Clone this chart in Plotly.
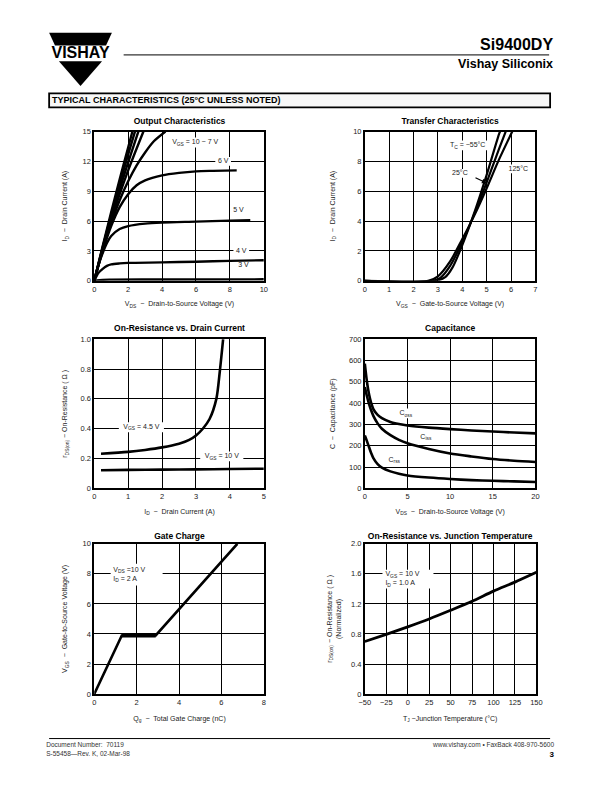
import plotly.graph_objects as go

W, H = 612, 792

# ---------------- data ----------------
# Output characteristics: VDS (V) vs ID (A)
out_v10_x = [0, 0.5, 1.0, 1.5, 2.0, 2.25]
out_v10_y = [0, 3.5, 6.9, 10.2, 13.4, 15.0]
out_v9_x = [0, 0.5, 1.0, 1.5, 2.0, 2.4]
out_v9_y = [0, 3.4, 6.6, 9.7, 12.7, 15.0]
out_v8_x = [0, 0.5, 1.0, 1.5, 2.0, 2.6]
out_v8_y = [0, 3.3, 6.3, 9.2, 11.9, 15.0]
out_v7_x = [0, 0.5, 1.0, 1.5, 2.0, 2.5, 2.9]
out_v7_y = [0, 3.2, 6.1, 8.7, 11.1, 13.3, 15.0]
out_v65_x = [0, 0.5, 1.0, 1.5, 2.0, 2.5, 3.0, 3.5, 4.2]
out_v65_y = [0, 3.1, 5.8, 8.1, 10.0, 11.6, 12.9, 14.0, 15.0]
out_v6_x = [0, 0.5, 1.0, 1.5, 2.0, 2.5, 3.0, 4.0, 5.0, 6.0, 7.0, 8.4]
out_v6_y = [0, 3.0, 5.5, 7.4, 8.7, 9.6, 10.1, 10.6, 10.85, 11.0, 11.05, 11.1]
out_v5_x = [0, 0.25, 0.5, 0.75, 1.0, 1.5, 2.0, 3.0, 4.0, 6.0, 8.0, 9.2]
out_v5_y = [0, 1.6, 2.8, 3.8, 4.5, 5.2, 5.5, 5.75, 5.85, 5.95, 6.05, 6.1]
out_v4_x = [0, 0.25, 0.5, 0.75, 1.0, 1.5, 2.0, 4.0, 6.0, 8.0, 10.0]
out_v4_y = [0, 0.8, 1.2, 1.5, 1.65, 1.75, 1.8, 1.85, 1.92, 2.0, 2.07]
out_v3_x = [0, 0.5, 1.0, 4.0, 10.0]
out_v3_y = [0, 0.1, 0.12, 0.13, 0.15]

# Transfer characteristics: VGS (V) vs ID (A)
tr_m55_x = [0, 2.9, 3.3, 3.6, 4.0, 4.5, 5.0, 5.5, 5.55]
tr_m55_y = [0, 0, 0.25, 0.9, 2.4, 4.6, 7.1, 9.8, 10.0]
tr_25_x = [0, 2.75, 3.1, 3.5, 4.0, 4.5, 5.0, 5.5, 5.78]
tr_25_y = [0, 0, 0.2, 1.0, 2.6, 4.5, 6.6, 8.8, 10.0]
tr_125_x = [0, 2.6, 3.0, 3.5, 4.0, 4.5, 5.0, 5.5, 6.05]
tr_125_y = [0, 0, 0.3, 1.3, 2.8, 4.4, 6.2, 8.1, 10.0]

# On-resistance vs drain current
ron_45_x = [0.2, 1.0, 1.5, 2.0, 2.5, 2.8, 3.0, 3.2, 3.4, 3.6, 3.7, 3.8]
ron_45_y = [0.232, 0.245, 0.258, 0.275, 0.30, 0.325, 0.355, 0.40, 0.465, 0.60, 0.78, 1.0]
ron_10_x = [0.2, 1.0, 2.0, 3.0, 4.0, 5.0]
ron_10_y = [0.122, 0.124, 0.126, 0.128, 0.130, 0.132]

# Capacitance vs VDS
cap_v = [0, 0.25, 0.5, 0.75, 1.0, 1.5, 2.0, 3.0, 4.0, 5.0, 7.5, 10.0, 12.5, 15.0, 17.5, 20.0]
cap_top = [585, 500, 440, 400, 372, 345, 330, 312, 302, 295, 285, 278, 272, 267, 262, 258]
cap_mid = [475, 432, 395, 365, 340, 305, 280, 250, 228, 212, 185, 164, 150, 138, 130, 124]
cap_bot = [248, 222, 193, 165, 142, 114, 98, 80, 69, 61, 51, 44, 39, 36, 33, 30]

# Gate charge
gc_q = [0, 1.3, 2.9, 6.75]
gc_v = [0, 3.9, 3.9, 10.0]

# On-resistance vs junction temperature (normalized)
rt_t = [-50, -25, 0, 25, 50, 75, 100, 125, 150]
rt_r = [0.70, 0.795, 0.895, 1.0, 1.115, 1.235, 1.37, 1.49, 1.62]

# ---------------- layout helpers ----------------
def PX(x):
    return x / W


def PY(y):
    return 1 - y / H


NARROW = "Liberation Sans Narrow, Arial Narrow, Liberation Sans, Arial, sans-serif"
SANS = "Liberation Sans, Arial, Helvetica, sans-serif"
TICKF = dict(family=SANS, size=7.5, color="#222")
NB = "\u00a0"
D = NB * 2 + "\u2212" + NB * 2

panels = [
    dict(px=(90, 263, 129, 280), xr=[0, 10], yr=[0, 15], xd=2, yd=3, so=14,
         yt="I<sub>D</sub>" + D + "Drain Current (A)"),
    dict(px=(366, 540, 129, 280), xr=[0, 7], yr=[0, 10], xd=1, yd=2, so=17,
         yt="I<sub>D</sub>" + D + "Drain Current (A)"),
    dict(px=(90, 263, 339, 490), xr=[0, 5], yr=[0, 1.0], xd=1, yd=0.2, so=12,
         yt="r<sub>DS(on)</sub>" + NB + "\u2212" + NB + "On-Resistance (" + NB + "\u03a9" + NB + ")"),
    dict(px=(366, 540, 339, 490), xr=[0, 20], yr=[0, 700], xd=5, yd=100, so=13,
         yt="C" + D + "Capacitance (pF)"),
    dict(px=(90, 263, 546, 698), xr=[0, 8], yr=[0, 10], xd=2, yd=2, so=14,
         yt="V<sub>GS</sub>" + D + "Gate-to-Source Voltage (V)"),
    dict(px=(366, 541, 546, 698), xr=[-50, 150], yr=[0, 2.0], xd=25, yd=0.4, so=9,
         yt="r<sub>DS(on)</sub>" + NB + "\u2212" + NB + "On-Resistance (" + NB + "\u03a9" + NB + ")<br>(Normalized)"),
]

fig = go.Figure()
layout = {}
for i, p in enumerate(panels, start=1):
    x0, x1, y0, y1 = p["px"]
    xa = dict(domain=[PX(x0), PX(x1)], range=p["xr"], dtick=p["xd"], tick0=p["xr"][0],
              showgrid=True, gridcolor="black", gridwidth=1.3, zeroline=False,
              showline=True, linecolor="black", linewidth=1.6, mirror=True,
              ticks="", tickfont=TICKF, anchor="y%d" % i, fixedrange=True)
    ya = dict(domain=[PY(y1), PY(y0)], range=p["yr"], dtick=p["yd"], tick0=0,
              showgrid=True, gridcolor="black", gridwidth=1.3, zeroline=False,
              showline=True, linecolor="black", linewidth=1.6, mirror=True,
              ticks="", tickfont=TICKF, anchor="x%d" % i, fixedrange=True,
              title=dict(text=p["yt"], standoff=p["so"], font=dict(family=SANS, size=7, color="#222")))
    layout["xaxis" if i == 1 else "xaxis%d" % i] = xa
    layout["yaxis" if i == 1 else "yaxis%d" % i] = ya

layout["yaxis3"].update(tickvals=[0, 0.2, 0.4, 0.6, 0.8, 1.0],
                        ticktext=["0", "0.2", "0.4", "0.6", "0.8", "1.0"])
layout["yaxis6"].update(tickvals=[0, 0.4, 0.8, 1.2, 1.6, 2.0],
                        ticktext=["0", "0.4", "0.8", "1.2", "1.6", "2.0"])
layout["xaxis6"].update(tickvals=[-50, -25, 0, 25, 50, 75, 100, 125, 150],
                        ticktext=["\u221250", "\u221225", "0", "25", "50", "75", "100", "125", "150"])

# full-page overlay axes in page pixels (for page texts)
layout["xaxis7"] = dict(domain=[0, 1], range=[0, W], visible=False, fixedrange=True, anchor="y7")
layout["yaxis7"] = dict(domain=[0, 1], range=[H, 0], visible=False, fixedrange=True, anchor="x7")


def axn(i, letter):
    return letter if i == 1 else "%s%d" % (letter, i)


def curve(x, y, i, width=2.6, shape="spline"):
    fig.add_trace(go.Scatter(x=x, y=y, mode="lines",
                             line=dict(color="black", width=width, shape=shape, smoothing=0.8),
                             xaxis=axn(i, "x"), yaxis=axn(i, "y"),
                             hoverinfo="skip", showlegend=False, cliponaxis=True))


for xs, ys in [(out_v10_x, out_v10_y), (out_v9_x, out_v9_y), (out_v8_x, out_v8_y),
               (out_v7_x, out_v7_y), (out_v65_x, out_v65_y), (out_v6_x, out_v6_y),
               (out_v5_x, out_v5_y), (out_v4_x, out_v4_y), (out_v3_x, out_v3_y)]:
    curve(xs, ys, 1, width=2.4)

for xs, ys in [(tr_m55_x, tr_m55_y), (tr_25_x, tr_25_y), (tr_125_x, tr_125_y)]:
    curve(xs, ys, 2, width=2.2)

curve(ron_45_x, ron_45_y, 3)
curve(ron_10_x, ron_10_y, 3)

for ys in (cap_top, cap_mid, cap_bot):
    curve(cap_v, ys, 4)

curve(gc_q, gc_v, 5, width=2.6, shape="linear")
curve(gc_q[1:3], gc_v[1:3], 5, width=4.2, shape="linear")

curve(rt_t, rt_r, 6, width=2.8)

shapes = []


def text(x, y, s, i=7, size=7, family=SANS, pos="middle center", color="#222"):
    fig.add_trace(go.Scatter(x=[x], y=[y], mode="text", text=[s], textposition=pos,
                             textfont=dict(family=family, size=size, color=color),
                             xaxis=axn(i, "x"), yaxis=axn(i, "y"),
                             hoverinfo="skip", showlegend=False, cliponaxis=False))


def wbox(i, cx, cy, wpx, hpx):
    p = panels[i - 1]
    x0, x1, y0, y1 = p["px"]
    ux = (x1 - x0) / (p["xr"][1] - p["xr"][0])
    uy = (y1 - y0) / (p["yr"][1] - p["yr"][0])
    shapes.append(dict(type="rect", xref=axn(i, "x"), yref=axn(i, "y"),
                       x0=cx - wpx / 2 / ux, x1=cx + wpx / 2 / ux,
                       y0=cy - hpx / 2 / uy, y1=cy + hpx / 2 / uy,
                       fillcolor="white", line=dict(width=0), layer="between"))


def label(i, cx, cy, s, wpx, hpx):
    wbox(i, cx, cy, wpx, hpx)
    text(cx, cy, s, i=i)


# chart titles
for (cx, cy, s) in [(177, 119, "Output Characteristics"), (453, 119, "Transfer Characteristics"),
                    (177, 329, "On-Resistance vs. Drain Current"), (453, 329, "Capacitance"),
                    (177, 539, "Gate Charge"), (453, 539, "On-Resistance vs. Junction Temperature")]:
    text(cx, cy, "<b>%s</b>" % s, size=8.5, family=NARROW, color="black")

# x-axis titles
text(177, 304, "V<sub>DS</sub>" + D + "Drain-to-Source Voltage (V)")
text(453, 304, "V<sub>GS</sub>" + D + "Gate-to-Source Voltage (V)")
text(177, 514, "I<sub>D</sub>" + D + "Drain Current (A)")
text(453, 514, "V<sub>DS</sub>" + D + "Drain-to-Source Voltage (V)")
text(177, 723, "Q<sub>g</sub>" + D + "Total Gate Charge (nC)")
text(453, 723, "T<sub>J</sub>" + NB + "\u2212" + "Junction Temperature (\u00b0C)")

# curve labels
label(1, 5.95, 13.9, "V<sub>GS</sub> = 10 \u2212 7 V", 52, 10)
label(1, 7.6, 12.0, "6 V", 16, 9)
label(1, 8.5, 7.05, "5 V", 16, 9)
label(1, 8.67, 3.0, "4 V", 16, 9)
label(1, 8.8, 1.55, "3 V", 16, 9)

label(2, 4.22, 9.07, "T<sub>C</sub> = \u221255\u00b0C", 46, 10)
label(2, 3.9, 7.2, "25\u00b0C", 22, 9)
label(2, 6.3, 7.5, "125\u00b0C", 26, 9)

label(3, 1.39, 0.41, "V<sub>GS</sub> = 4.5 V", 46, 10)
label(3, 3.76, 0.215, "V<sub>GS</sub> = 10 V", 44, 10)

label(4, 4.8, 352, "C<sub>oss</sub>", 20, 10)
label(4, 7.16, 240, "C<sub>iss</sub>", 18, 10)
label(4, 3.45, 133, "C<sub>rss</sub>", 18, 9)

wbox(5, 2.0, 7.95, 53, 22)
text(0.9, 7.95, "V<sub>DS</sub> =10 V<br>I<sub>D</sub> = 2 A", i=5, pos="middle right")
wbox(6, 0.3, 1.53, 52, 19)
text(-26, 1.53, "V<sub>GS</sub> = 10 V<br>I<sub>D</sub> = 1.0 A", i=6, pos="middle right")

# header
text(558, 42, "<b>Si9400DY</b>", size=16, family=NARROW, color="black", pos="middle left")
text(558, 62, "<b>Vishay Siliconix</b>", size=12.5, family=NARROW, color="black", pos="middle left")
text(76, 50.5, "<b>VISHAY</b>", size=16, family=SANS, color="black")
text(47, 97.5, "<b>TYPICAL CHARACTERISTICS (25\u00b0C UNLESS NOTED)</b>", size=9, color="black",
     pos="middle right")

# footer
text(41, 750, "Document Number:" + NB * 2 + "70119", size=6.5, pos="middle right", color="#333")
text(41, 759, "S-55458\u2014Rev. K, 02-Mar-98", size=6.5, pos="middle right", color="#333")
text(559, 750, "www.vishay.com \u2022 FaxBack 408-970-5600", size=6.5, pos="middle left", color="#333")
text(559, 760, "<b>3</b>", size=8, pos="middle left", color="black")

# arrow (transfer chart)
annotations = [dict(x=5.0, y=6.55, ax=4.48, ay=6.95, xref="x2", yref="y2", axref="x2", ayref="y2",
                    showarrow=True, arrowhead=2, arrowsize=0.8, arrowwidth=1.2, arrowcolor="black",
                    text="")]


def path(pts):
    return "M " + " L ".join("%.4f,%.4f" % (PX(a), PY(b)) for a, b in pts) + " Z"


shapes += [
    dict(type="path", xref="paper", yref="paper", path=path([(44, 29), (108, 29), (102, 42), (50, 42)]),
         fillcolor="black", line=dict(width=0)),
    dict(type="path", xref="paper", yref="paper", path=path([(54, 58), (98, 58), (76, 83)]),
         fillcolor="black", line=dict(width=0)),
    dict(type="line", xref="paper", yref="paper", x0=PX(120), x1=PX(554), y0=PY(51.5), y1=PY(51.5),
         line=dict(color="black", width=1)),
    dict(type="rect", xref="paper", yref="paper", x0=PX(44), x1=PX(555), y0=PY(104.5), y1=PY(90.5),
         fillcolor="#f7f7f7", line=dict(color="black", width=1.8), layer="below"),
    dict(type="line", xref="paper", yref="paper", x0=PX(44), x1=PX(555), y0=PY(743), y1=PY(743),
         line=dict(color="black", width=1)),
]

fig.update_layout(**layout)
fig.update_layout(width=W, height=H, margin=dict(l=0, r=0, t=0, b=0), autosize=False,
                  font=dict(family=SANS, size=7, color="#222"),
                  paper_bgcolor="white", plot_bgcolor="rgba(0,0,0,0)", showlegend=False,
                  annotations=annotations, shapes=shapes)

fig.write_html("out.html", config={"displayModeBar": False},
               post_script="document.body.style.margin='0';document.body.style.overflow='hidden';")
